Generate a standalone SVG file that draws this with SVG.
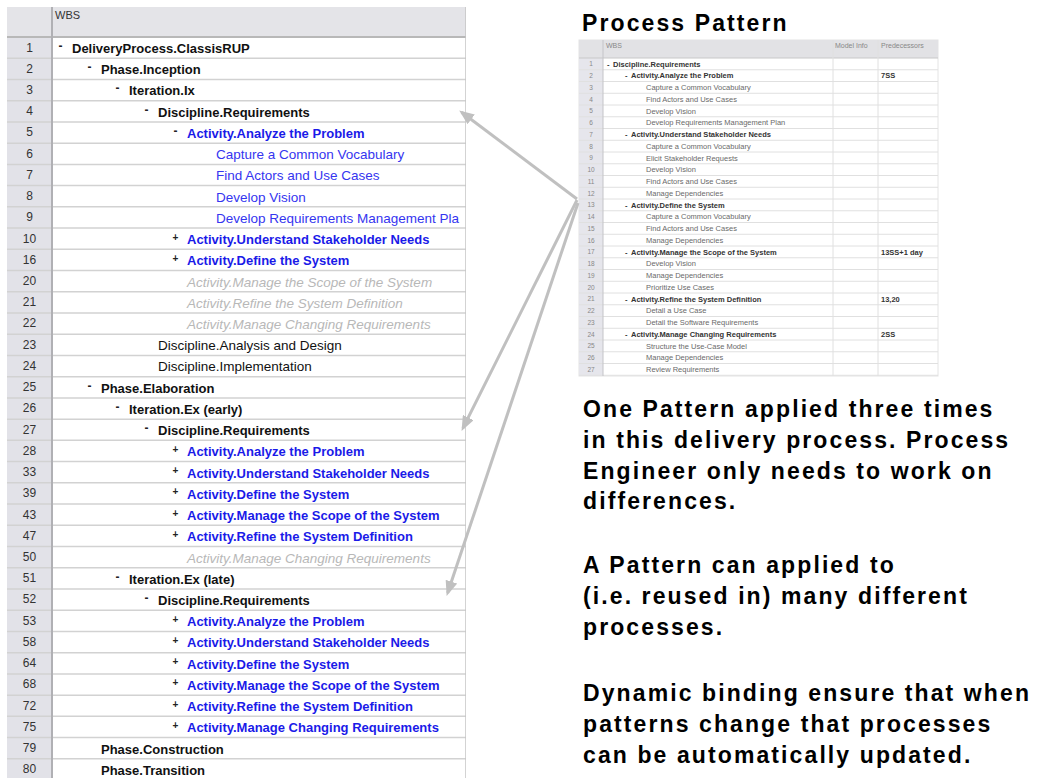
<svg xmlns="http://www.w3.org/2000/svg" width="1037" height="778" viewBox="0 0 1037 778">
<defs>
<style>
text{font-family:"Liberation Sans",Arial,sans-serif}
.hd{font-size:11px;fill:#333}
.num{font-size:12px;fill:#333;text-anchor:middle}
.b{font-size:13px;font-weight:bold;fill:#111}
.bb{font-size:13px;font-weight:bold;fill:#1a1ae8}
.rb{font-size:13.5px;fill:#3535f0}
.r{font-size:13.5px;fill:#111}
.gi{font-size:13.5px;font-style:italic;fill:#b8b8b8}
.mk{font-size:12px;font-weight:bold;fill:#222}
.pl{font-size:10px;font-weight:bold;fill:#222}
.big{font-size:23px;font-weight:bold;letter-spacing:2.1px;fill:#000}
.sn{font-size:6.5px;fill:#888;text-anchor:middle}
.sr{font-size:7.5px;fill:#6a6a6a}
.sb{font-size:7.5px;font-weight:bold;fill:#333}
.sh{font-size:7px;fill:#888}
.grid{stroke:#d2d2d2;stroke-width:1.5}
.sgrid{stroke:#e0e0e0;stroke-width:1}
.conn{stroke:#c0c0c0;stroke-width:3;fill:none}
</style>
<marker id="ah" markerUnits="userSpaceOnUse" markerWidth="16" markerHeight="12" refX="12" refY="6" orient="auto">
<path d="M0,0 L15,6 L0,12 Z" fill="#c0c0c0"/>
</marker>
<clipPath id="tclip"><rect x="7" y="7" width="459" height="771"/></clipPath>
</defs>
<rect width="1037" height="778" fill="#fff"/>

<g id="wbs-table" clip-path="url(#tclip)">
<rect x="7" y="7" width="459" height="771" fill="#fff"/>
<rect x="7" y="7" width="459" height="30" fill="#e4e4e8"/>
<rect x="7" y="37" width="45" height="741" fill="#e2e2e8"/>
<g class="grid">
<line x1="7" y1="37" x2="466" y2="37" stroke="#b8b8b8" stroke-width="2"/>
<line x1="7" y1="58.23" x2="466" y2="58.23"/>
<line x1="7" y1="79.46" x2="466" y2="79.46"/>
<line x1="7" y1="100.69" x2="466" y2="100.69"/>
<line x1="7" y1="121.92" x2="466" y2="121.92"/>
<line x1="7" y1="143.15" x2="466" y2="143.15"/>
<line x1="7" y1="164.38" x2="466" y2="164.38"/>
<line x1="7" y1="185.61" x2="466" y2="185.61"/>
<line x1="7" y1="206.84" x2="466" y2="206.84"/>
<line x1="7" y1="228.07" x2="466" y2="228.07"/>
<line x1="7" y1="249.3" x2="466" y2="249.3"/>
<line x1="7" y1="270.53" x2="466" y2="270.53"/>
<line x1="7" y1="291.76" x2="466" y2="291.76"/>
<line x1="7" y1="312.99" x2="466" y2="312.99"/>
<line x1="7" y1="334.22" x2="466" y2="334.22"/>
<line x1="7" y1="355.45" x2="466" y2="355.45"/>
<line x1="7" y1="376.68" x2="466" y2="376.68"/>
<line x1="7" y1="397.91" x2="466" y2="397.91"/>
<line x1="7" y1="419.14" x2="466" y2="419.14"/>
<line x1="7" y1="440.37" x2="466" y2="440.37"/>
<line x1="7" y1="461.6" x2="466" y2="461.6"/>
<line x1="7" y1="482.83" x2="466" y2="482.83"/>
<line x1="7" y1="504.06" x2="466" y2="504.06"/>
<line x1="7" y1="525.29" x2="466" y2="525.29"/>
<line x1="7" y1="546.52" x2="466" y2="546.52"/>
<line x1="7" y1="567.75" x2="466" y2="567.75"/>
<line x1="7" y1="588.98" x2="466" y2="588.98"/>
<line x1="7" y1="610.21" x2="466" y2="610.21"/>
<line x1="7" y1="631.44" x2="466" y2="631.44"/>
<line x1="7" y1="652.67" x2="466" y2="652.67"/>
<line x1="7" y1="673.9" x2="466" y2="673.9"/>
<line x1="7" y1="695.13" x2="466" y2="695.13"/>
<line x1="7" y1="716.36" x2="466" y2="716.36"/>
<line x1="7" y1="737.59" x2="466" y2="737.59"/>
<line x1="7" y1="758.82" x2="466" y2="758.82"/>
</g>
<line x1="52" y1="7" x2="52" y2="778" stroke="#b0b0b4" stroke-width="2"/>
<line x1="466" y1="7" x2="466" y2="778" stroke="#c4c4c4" stroke-width="1.5"/>
<text class="hd" x="55" y="19">WBS</text>

<g id="r1" transform="translate(0,37)"><text class="num" x="29.5" y="14.5">1</text><text class="mk" x="58.5" y="13">-</text><text class="b" x="72" y="16">DeliveryProcess.ClassisRUP</text></g>
<g id="r2" transform="translate(0,58.23)"><text class="num" x="29.5" y="14.5">2</text><text class="mk" x="87.5" y="13">-</text><text class="b" x="101" y="16">Phase.Inception</text></g>
<g id="r3" transform="translate(0,79.46)"><text class="num" x="29.5" y="14.5">3</text><text class="mk" x="115.5" y="13">-</text><text class="b" x="129" y="16">Iteration.Ix</text></g>
<g id="r4" transform="translate(0,100.69)"><text class="num" x="29.5" y="14.5">4</text><text class="mk" x="144.5" y="13">-</text><text class="b" x="158" y="16">Discipline.Requirements</text></g>
<g id="r5" transform="translate(0,121.92)"><text class="num" x="29.5" y="14.5">5</text><text class="mk" x="173.5" y="13">-</text><text class="bb" x="187" y="16">Activity.Analyze the Problem</text></g>
<g id="r6" transform="translate(0,143.15)"><text class="num" x="29.5" y="14.5">6</text><text class="rb" x="216" y="16">Capture a Common Vocabulary</text></g>
<g id="r7" transform="translate(0,164.38)"><text class="num" x="29.5" y="14.5">7</text><text class="rb" x="216" y="16">Find Actors and Use Cases</text></g>
<g id="r8" transform="translate(0,185.61)"><text class="num" x="29.5" y="14.5">8</text><text class="rb" x="216" y="16">Develop Vision</text></g>
<g id="r9" transform="translate(0,206.84)"><text class="num" x="29.5" y="14.5">9</text><text class="rb" x="216" y="16">Develop Requirements Management Pla</text></g>
<g id="r10" transform="translate(0,228.07)"><text class="num" x="29.5" y="14.5">10</text><text class="pl" x="172.5" y="12.5">+</text><text class="bb" x="187" y="16">Activity.Understand Stakeholder Needs</text></g>
<g id="r16" transform="translate(0,249.3)"><text class="num" x="29.5" y="14.5">16</text><text class="pl" x="172.5" y="12.5">+</text><text class="bb" x="187" y="16">Activity.Define the System</text></g>
<g id="r20" transform="translate(0,270.53)"><text class="num" x="29.5" y="14.5">20</text><text class="gi" x="187" y="16">Activity.Manage the Scope of the System</text></g>
<g id="r21" transform="translate(0,291.76)"><text class="num" x="29.5" y="14.5">21</text><text class="gi" x="187" y="16">Activity.Refine the System Definition</text></g>
<g id="r22" transform="translate(0,312.99)"><text class="num" x="29.5" y="14.5">22</text><text class="gi" x="187" y="16">Activity.Manage Changing Requirements</text></g>
<g id="r23" transform="translate(0,334.22)"><text class="num" x="29.5" y="14.5">23</text><text class="r" x="158" y="16">Discipline.Analysis and Design</text></g>
<g id="r24" transform="translate(0,355.45)"><text class="num" x="29.5" y="14.5">24</text><text class="r" x="158" y="16">Discipline.Implementation</text></g>
<g id="r25" transform="translate(0,376.68)"><text class="num" x="29.5" y="14.5">25</text><text class="mk" x="87.5" y="13">-</text><text class="b" x="101" y="16">Phase.Elaboration</text></g>
<g id="r26" transform="translate(0,397.91)"><text class="num" x="29.5" y="14.5">26</text><text class="mk" x="115.5" y="13">-</text><text class="b" x="129" y="16">Iteration.Ex (early)</text></g>
<g id="r27" transform="translate(0,419.14)"><text class="num" x="29.5" y="14.5">27</text><text class="mk" x="144.5" y="13">-</text><text class="b" x="158" y="16">Discipline.Requirements</text></g>
<g id="r28" transform="translate(0,440.37)"><text class="num" x="29.5" y="14.5">28</text><text class="pl" x="172.5" y="12.5">+</text><text class="bb" x="187" y="16">Activity.Analyze the Problem</text></g>
<g id="r33" transform="translate(0,461.6)"><text class="num" x="29.5" y="14.5">33</text><text class="pl" x="172.5" y="12.5">+</text><text class="bb" x="187" y="16">Activity.Understand Stakeholder Needs</text></g>
<g id="r39" transform="translate(0,482.83)"><text class="num" x="29.5" y="14.5">39</text><text class="pl" x="172.5" y="12.5">+</text><text class="bb" x="187" y="16">Activity.Define the System</text></g>
<g id="r43" transform="translate(0,504.06)"><text class="num" x="29.5" y="14.5">43</text><text class="pl" x="172.5" y="12.5">+</text><text class="bb" x="187" y="16">Activity.Manage the Scope of the System</text></g>
<g id="r47" transform="translate(0,525.29)"><text class="num" x="29.5" y="14.5">47</text><text class="pl" x="172.5" y="12.5">+</text><text class="bb" x="187" y="16">Activity.Refine the System Definition</text></g>
<g id="r50" transform="translate(0,546.52)"><text class="num" x="29.5" y="14.5">50</text><text class="gi" x="187" y="16">Activity.Manage Changing Requirements</text></g>
<g id="r51" transform="translate(0,567.75)"><text class="num" x="29.5" y="14.5">51</text><text class="mk" x="115.5" y="13">-</text><text class="b" x="129" y="16">Iteration.Ex (late)</text></g>
<g id="r52" transform="translate(0,588.98)"><text class="num" x="29.5" y="14.5">52</text><text class="mk" x="144.5" y="13">-</text><text class="b" x="158" y="16">Discipline.Requirements</text></g>
<g id="r53" transform="translate(0,610.21)"><text class="num" x="29.5" y="14.5">53</text><text class="pl" x="172.5" y="12.5">+</text><text class="bb" x="187" y="16">Activity.Analyze the Problem</text></g>
<g id="r58" transform="translate(0,631.44)"><text class="num" x="29.5" y="14.5">58</text><text class="pl" x="172.5" y="12.5">+</text><text class="bb" x="187" y="16">Activity.Understand Stakeholder Needs</text></g>
<g id="r64" transform="translate(0,652.67)"><text class="num" x="29.5" y="14.5">64</text><text class="pl" x="172.5" y="12.5">+</text><text class="bb" x="187" y="16">Activity.Define the System</text></g>
<g id="r68" transform="translate(0,673.9)"><text class="num" x="29.5" y="14.5">68</text><text class="pl" x="172.5" y="12.5">+</text><text class="bb" x="187" y="16">Activity.Manage the Scope of the System</text></g>
<g id="r72" transform="translate(0,695.13)"><text class="num" x="29.5" y="14.5">72</text><text class="pl" x="172.5" y="12.5">+</text><text class="bb" x="187" y="16">Activity.Refine the System Definition</text></g>
<g id="r75" transform="translate(0,716.36)"><text class="num" x="29.5" y="14.5">75</text><text class="pl" x="172.5" y="12.5">+</text><text class="bb" x="187" y="16">Activity.Manage Changing Requirements</text></g>
<g id="r79" transform="translate(0,737.59)"><text class="num" x="29.5" y="14.5">79</text><text class="b" x="101" y="16">Phase.Construction</text></g>
<g id="r80" transform="translate(0,758.82)"><text class="num" x="29.5" y="14.5">80</text><text class="b" x="101" y="16">Phase.Transition</text></g>
</g>

<g id="title"><text class="big" x="582" y="31">Process Pattern</text></g>

<g id="pattern-table">
<rect x="579" y="40" width="359" height="336" fill="#fff" stroke="#e4e4e4" stroke-width="1"/>
<rect x="579" y="40" width="359" height="18" fill="#e2e2e5"/>
<rect x="579" y="58" width="24" height="318" fill="#e6e6ec"/>
<g class="sgrid">
<line x1="579" y1="58" x2="938" y2="58" stroke="#c8c8c8"/>
<line x1="579" y1="69.75" x2="938" y2="69.75"/>
<line x1="579" y1="81.5" x2="938" y2="81.5"/>
<line x1="579" y1="93.25" x2="938" y2="93.25"/>
<line x1="579" y1="105" x2="938" y2="105"/>
<line x1="579" y1="116.75" x2="938" y2="116.75"/>
<line x1="579" y1="128.5" x2="938" y2="128.5"/>
<line x1="579" y1="140.25" x2="938" y2="140.25"/>
<line x1="579" y1="152" x2="938" y2="152"/>
<line x1="579" y1="163.75" x2="938" y2="163.75"/>
<line x1="579" y1="175.5" x2="938" y2="175.5"/>
<line x1="579" y1="187.25" x2="938" y2="187.25"/>
<line x1="579" y1="199" x2="938" y2="199"/>
<line x1="579" y1="210.75" x2="938" y2="210.75"/>
<line x1="579" y1="222.5" x2="938" y2="222.5"/>
<line x1="579" y1="234.25" x2="938" y2="234.25"/>
<line x1="579" y1="246" x2="938" y2="246"/>
<line x1="579" y1="257.75" x2="938" y2="257.75"/>
<line x1="579" y1="269.5" x2="938" y2="269.5"/>
<line x1="579" y1="281.25" x2="938" y2="281.25"/>
<line x1="579" y1="293" x2="938" y2="293"/>
<line x1="579" y1="304.75" x2="938" y2="304.75"/>
<line x1="579" y1="316.5" x2="938" y2="316.5"/>
<line x1="579" y1="328.25" x2="938" y2="328.25"/>
<line x1="579" y1="340" x2="938" y2="340"/>
<line x1="579" y1="351.75" x2="938" y2="351.75"/>
<line x1="579" y1="363.5" x2="938" y2="363.5"/>
<line x1="579" y1="375.25" x2="938" y2="375.25"/>
<line x1="603" y1="40" x2="603" y2="376" stroke="#c4c4c8"/>
<line x1="833" y1="40" x2="833" y2="376"/>
<line x1="878" y1="40" x2="878" y2="376"/>
</g>
<text class="sh" x="606" y="48">WBS</text>
<text class="sh" x="835" y="48">Model Info</text>
<text class="sh" x="881" y="48">Predecessors</text>
<g transform="translate(0,58)"><text class="sn" x="591" y="8.3">1</text><text class="sb" x="607" y="8.5">-</text><text class="sb" x="613" y="8.5">Discipline.Requirements</text></g>
<g transform="translate(0,69.75)"><text class="sn" x="591" y="8.3">2</text><text class="sb" x="625" y="8.5">-</text><text class="sb" x="631" y="8.5">Activity.Analyze the Problem</text><text class="sb" x="881" y="8.5">7SS</text></g>
<g transform="translate(0,81.5)"><text class="sn" x="591" y="8.3">3</text><text class="sr" x="646" y="8.5">Capture a Common Vocabulary</text></g>
<g transform="translate(0,93.25)"><text class="sn" x="591" y="8.3">4</text><text class="sr" x="646" y="8.5">Find Actors and Use Cases</text></g>
<g transform="translate(0,105)"><text class="sn" x="591" y="8.3">5</text><text class="sr" x="646" y="8.5">Develop Vision</text></g>
<g transform="translate(0,116.75)"><text class="sn" x="591" y="8.3">6</text><text class="sr" x="646" y="8.5">Develop Requirements Management Plan</text></g>
<g transform="translate(0,128.5)"><text class="sn" x="591" y="8.3">7</text><text class="sb" x="625" y="8.5">-</text><text class="sb" x="631" y="8.5">Activity.Understand Stakeholder Needs</text></g>
<g transform="translate(0,140.25)"><text class="sn" x="591" y="8.3">8</text><text class="sr" x="646" y="8.5">Capture a Common Vocabulary</text></g>
<g transform="translate(0,152)"><text class="sn" x="591" y="8.3">9</text><text class="sr" x="646" y="8.5">Elicit Stakeholder Requests</text></g>
<g transform="translate(0,163.75)"><text class="sn" x="591" y="8.3">10</text><text class="sr" x="646" y="8.5">Develop Vision</text></g>
<g transform="translate(0,175.5)"><text class="sn" x="591" y="8.3">11</text><text class="sr" x="646" y="8.5">Find Actors and Use Cases</text></g>
<g transform="translate(0,187.25)"><text class="sn" x="591" y="8.3">12</text><text class="sr" x="646" y="8.5">Manage Dependencies</text></g>
<g transform="translate(0,199)"><text class="sn" x="591" y="8.3">13</text><text class="sb" x="625" y="8.5">-</text><text class="sb" x="631" y="8.5">Activity.Define the System</text></g>
<g transform="translate(0,210.75)"><text class="sn" x="591" y="8.3">14</text><text class="sr" x="646" y="8.5">Capture a Common Vocabulary</text></g>
<g transform="translate(0,222.5)"><text class="sn" x="591" y="8.3">15</text><text class="sr" x="646" y="8.5">Find Actors and Use Cases</text></g>
<g transform="translate(0,234.25)"><text class="sn" x="591" y="8.3">16</text><text class="sr" x="646" y="8.5">Manage Dependencies</text></g>
<g transform="translate(0,246)"><text class="sn" x="591" y="8.3">17</text><text class="sb" x="625" y="8.5">-</text><text class="sb" x="631" y="8.5">Activity.Manage the Scope of the System</text><text class="sb" x="881" y="8.5">13SS+1 day</text></g>
<g transform="translate(0,257.75)"><text class="sn" x="591" y="8.3">18</text><text class="sr" x="646" y="8.5">Develop Vision</text></g>
<g transform="translate(0,269.5)"><text class="sn" x="591" y="8.3">19</text><text class="sr" x="646" y="8.5">Manage Dependencies</text></g>
<g transform="translate(0,281.25)"><text class="sn" x="591" y="8.3">20</text><text class="sr" x="646" y="8.5">Prioritize Use Cases</text></g>
<g transform="translate(0,293)"><text class="sn" x="591" y="8.3">21</text><text class="sb" x="625" y="8.5">-</text><text class="sb" x="631" y="8.5">Activity.Refine the System Definition</text><text class="sb" x="881" y="8.5">13,20</text></g>
<g transform="translate(0,304.75)"><text class="sn" x="591" y="8.3">22</text><text class="sr" x="646" y="8.5">Detail a Use Case</text></g>
<g transform="translate(0,316.5)"><text class="sn" x="591" y="8.3">23</text><text class="sr" x="646" y="8.5">Detail the Software Requirements</text></g>
<g transform="translate(0,328.25)"><text class="sn" x="591" y="8.3">24</text><text class="sb" x="625" y="8.5">-</text><text class="sb" x="631" y="8.5">Activity.Manage Changing Requirements</text><text class="sb" x="881" y="8.5">2SS</text></g>
<g transform="translate(0,340)"><text class="sn" x="591" y="8.3">25</text><text class="sr" x="646" y="8.5">Structure the Use-Case Model</text></g>
<g transform="translate(0,351.75)"><text class="sn" x="591" y="8.3">26</text><text class="sr" x="646" y="8.5">Manage Dependencies</text></g>
<g transform="translate(0,363.5)"><text class="sn" x="591" y="8.3">27</text><text class="sr" x="646" y="8.5">Review Requirements</text></g>
</g>

<g id="note1">
<text class="big" x="583" y="417">One Pattern applied three times</text>
<text class="big" x="583" y="448">in this delivery process. Process</text>
<text class="big" x="583" y="479">Engineer only needs to work on</text>
<text class="big" x="583" y="509">differences.</text>
</g>
<g id="note2">
<text class="big" x="583" y="573">A Pattern can applied to</text>
<text class="big" x="583" y="604">(i.e. reused in) many different</text>
<text class="big" x="583" y="635">processes.</text>
</g>
<g id="note3">
<text class="big" x="583" y="701">Dynamic binding ensure that when</text>
<text class="big" x="583" y="732">patterns change that processes</text>
<text class="big" x="583" y="763">can be automatically updated.</text>
</g>

<g id="connectors">
<line class="conn" x1="577" y1="199" x2="461.6" y2="112.2" marker-end="url(#ah)"/>
<line class="conn" x1="577" y1="200" x2="462.9" y2="428.2" marker-end="url(#ah)"/>
<line class="conn" x1="578" y1="203" x2="447.6" y2="593.1" marker-end="url(#ah)"/>
</g>
</svg>
